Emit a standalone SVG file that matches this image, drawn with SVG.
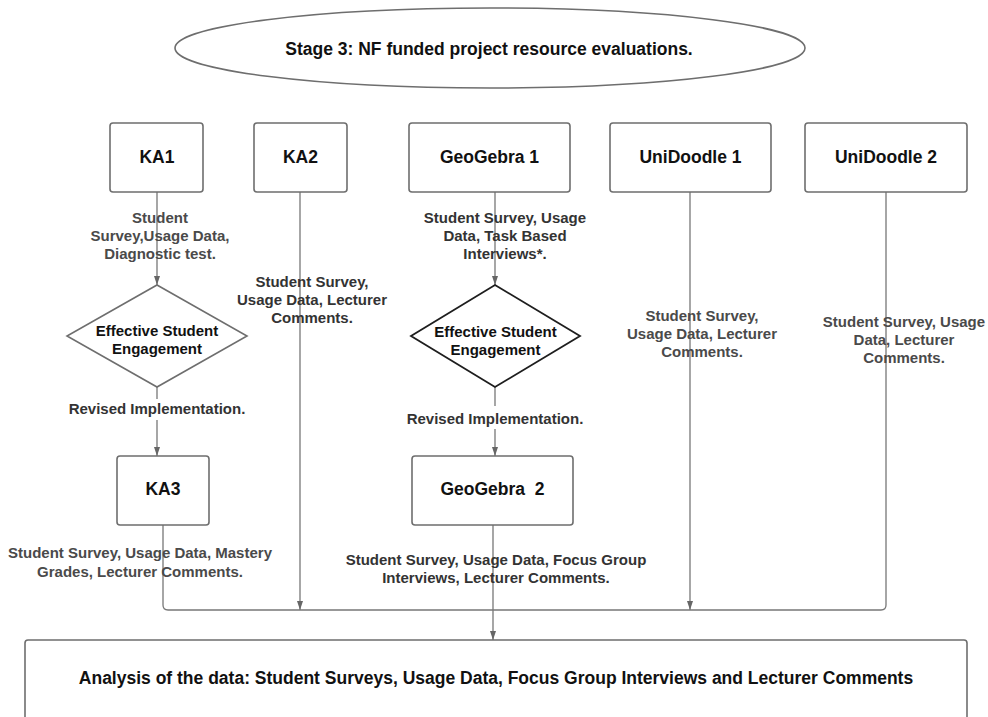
<svg xmlns="http://www.w3.org/2000/svg" width="988" height="717" viewBox="0 0 988 717">
<style>
text{font-family:"Liberation Sans",Arial,Helvetica,sans-serif;font-weight:bold;text-anchor:middle}
.node{fill:#fff;stroke:#6e6e6e;stroke-width:1.6}
.title{font-size:17.5px;fill:#111}
.lbl{font-size:15px;fill:#333}
.lbl2{font-size:15px;fill:#4a4a4a}
.dtx{font-size:15px;fill:#111}
.conn{fill:none;stroke:#777;stroke-width:1.3}
</style>
<defs>
<marker id="arr" markerUnits="userSpaceOnUse" markerWidth="10" markerHeight="8" refX="9" refY="3" orient="auto">
<path d="M0,0 L9,3 L0,6 z" fill="#666"/>
</marker>
</defs>
<rect width="988" height="717" fill="#fff"/>

<g id="stage">
<ellipse cx="490" cy="48" rx="315" ry="40" class="node"/>
<text x="489" y="55" class="title">Stage 3: NF funded project resource evaluations.</text>
</g>

<g id="connectors">
<path class="conn" d="M157,192 V285" marker-end="url(#arr)"/>
<path class="conn" d="M157,387 V456" marker-end="url(#arr)"/>
<path class="conn" d="M495,192 V285" marker-end="url(#arr)"/>
<path class="conn" d="M495,387 V456" marker-end="url(#arr)"/>
<path class="conn" d="M300,192 V610" marker-end="url(#arr)"/>
<path class="conn" d="M690,192 V610" marker-end="url(#arr)"/>
<path class="conn" d="M163,525 V605 Q163,610 168,610 H881 Q886,610 886,605 V192"/>
<path class="conn" d="M493,525 V640" marker-end="url(#arr)"/>
</g>

<g id="ka1">
<rect x="110" y="123" width="93" height="69" rx="3" class="node"/>
<text x="157" y="163" class="title">KA1</text>
</g>
<g id="ka2">
<rect x="254" y="123" width="93" height="69" rx="3" class="node"/>
<text x="300.5" y="163" class="title">KA2</text>
</g>
<g id="geogebra1">
<rect x="409" y="123" width="161" height="69" rx="3" class="node"/>
<text x="489.5" y="163" class="title">GeoGebra 1</text>
</g>
<g id="unidoodle1">
<rect x="610" y="123" width="161" height="69" rx="3" class="node"/>
<text x="690.5" y="163" class="title">UniDoodle 1</text>
</g>
<g id="unidoodle2">
<rect x="805" y="123" width="162" height="69" rx="3" class="node"/>
<text x="886" y="163" class="title">UniDoodle 2</text>
</g>

<g id="ka1-engagement">
<polygon points="157,285 247,336 157,387 67,336" class="node"/>
<text x="157" y="336" class="dtx">Effective Student</text>
<text x="157" y="354" class="dtx">Engagement</text>
</g>
<g id="geogebra-engagement">
<polygon points="495,285 580,336 495,387 411,336" fill="#fff" stroke="#1e1e1e" stroke-width="1.8"/>
<text x="495.5" y="337" class="dtx">Effective Student</text>
<text x="495.5" y="355" class="dtx">Engagement</text>
</g>

<g id="ka3">
<rect x="117" y="456" width="92" height="69" rx="3" class="node"/>
<text x="163" y="495" class="title">KA3</text>
</g>
<g id="geogebra2">
<rect x="412" y="456" width="161" height="69" rx="3" class="node"/>
<text x="492.5" y="495" class="title" xml:space="preserve">GeoGebra  2</text>
</g>

<g id="analysis">
<rect x="25" y="640" width="942" height="100" rx="3" class="node"/>
<text x="496" y="684" class="title">Analysis of the data: Student Surveys, Usage Data, Focus Group Interviews and Lecturer Comments</text>
</g>

<g id="labels">
<text class="lbl2"><tspan x="160" y="223">Student</tspan><tspan x="160" y="241">Survey,Usage Data,</tspan><tspan x="160" y="259">Diagnostic test.</tspan></text>
<text class="lbl"><tspan x="312" y="287">Student Survey,</tspan><tspan x="312" y="305">Usage Data, Lecturer</tspan><tspan x="312" y="323">Comments.</tspan></text>
<text class="lbl"><tspan x="505" y="223">Student Survey, Usage</tspan><tspan x="505" y="241">Data, Task Based</tspan><tspan x="505" y="259">Interviews*.</tspan></text>
<text class="lbl2"><tspan x="702" y="321">Student Survey,</tspan><tspan x="702" y="339">Usage Data, Lecturer</tspan><tspan x="702" y="357">Comments.</tspan></text>
<text class="lbl2"><tspan x="904" y="327">Student Survey, Usage</tspan><tspan x="904" y="345">Data, Lecturer</tspan><tspan x="904" y="363">Comments.</tspan></text>
<rect x="66" y="399" width="182" height="21" fill="#fff"/>
<text x="157" y="414" class="lbl">Revised Implementation.</text>
<rect x="405" y="406" width="180" height="23" fill="#fff"/>
<text x="495" y="424" class="lbl">Revised Implementation.</text>
<text class="lbl2"><tspan x="140" y="558">Student Survey, Usage Data, Mastery</tspan><tspan x="140" y="577">Grades, Lecturer Comments.</tspan></text>
<text class="lbl"><tspan x="496" y="565">Student Survey, Usage Data, Focus Group</tspan><tspan x="496" y="583">Interviews, Lecturer Comments.</tspan></text>
</g>
</svg>
